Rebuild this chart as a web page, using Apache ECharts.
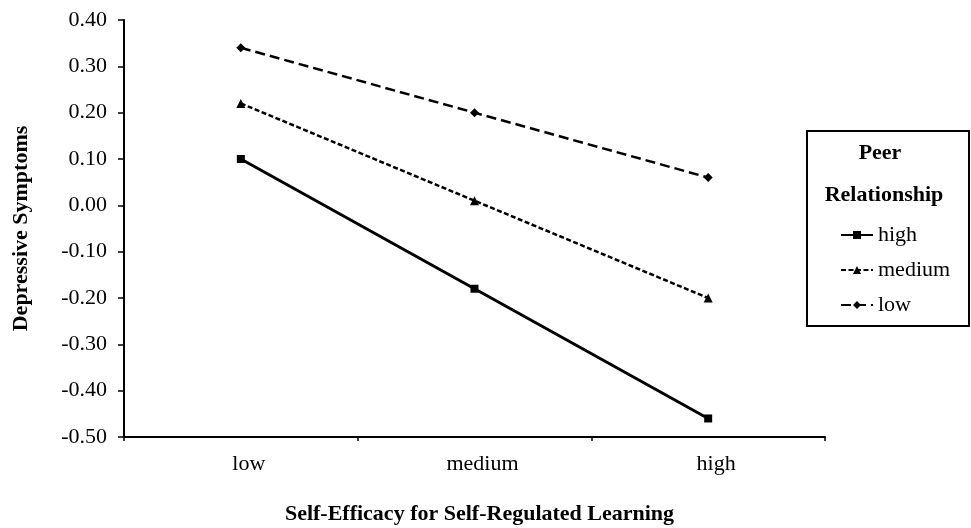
<!DOCTYPE html>
<html><head><meta charset="utf-8">
<script src="https://cdn.jsdelivr.net/npm/echarts@6/dist/echarts.min.js"></script>
<style>html,body{margin:0;padding:0;background:#fff}#c{width:971px;height:528px}</style>
</head><body><div id="c"></div>
<script>
const categories = ['low', 'medium', 'high'];
const highPeer = [0.10, -0.18, -0.46];
const mediumPeer = [0.22, 0.01, -0.20];
const lowPeer = [0.34, 0.20, 0.06];
const seriesNames = ['high', 'medium', 'low'];
const yMin = -0.5, yMax = 0.4, yStep = 0.1;

const FONT = '"Liberation Serif", "Times New Roman", serif';
const chart = echarts.init(document.getElementById('c'), null, {renderer: 'canvas'});
chart.setOption({
  backgroundColor: '#fff',
  animation: false,
  textStyle: {fontFamily: FONT, color: '#000'},
  grid: {left: 124, right: 146, top: 20, bottom: 91, containLabel: false, outerBoundsMode: 'none'},
  xAxis: {
    type: 'category', data: categories, boundaryGap: true,
    axisLine: {onZero: false, lineStyle: {color: '#000', width: 2}},
    axisTick: {show: true, length: 4, lineStyle: {color: '#000', width: 1.5}},
    axisLabel: {color: '#000', fontFamily: FONT, fontSize: 22, margin: 16, padding: [0, 0, 0, 16]},
    name: 'Self-Efficacy for Self-Regulated Learning', nameLocation: 'middle', nameGap: 66,
    nameTextStyle: {fontFamily: FONT, fontSize: 22, fontWeight: 'bold', color: '#000', padding: [0, 0, 0, 10]}
  },
  yAxis: {
    type: 'value', min: yMin, max: yMax, interval: yStep,
    axisLine: {show: true, lineStyle: {color: '#000', width: 2}},
    axisTick: {show: true, length: 6, lineStyle: {color: '#000', width: 1.5}},
    splitLine: {show: false},
    axisLabel: {color: '#000', fontFamily: FONT, fontSize: 22, margin: 17,
      formatter: v => v.toFixed(2)},
    name: 'Depressive Symptoms', nameLocation: 'middle', nameGap: 92,
    nameTextStyle: {fontFamily: FONT, fontSize: 22, fontWeight: 'bold', color: '#000'}
  },
  legend: {
    orient: 'vertical', left: 840, top: 224, itemGap: 13, padding: 0,
    itemWidth: 32, itemHeight: 10,
    textStyle: {fontFamily: FONT, fontSize: 22, lineHeight: 22, color: '#000'},
    data: seriesNames
  },
  graphic: [
    {type: 'rect', shape: {x: 807, y: 131, width: 162, height: 195},
     style: {fill: 'none', stroke: '#000', lineWidth: 2}, z: 100},
    {type: 'text', x: 880, y: 153, style: {text: 'Peer', font: 'bold 22px ' + FONT, fill: '#000', textAlign: 'center', textVerticalAlign: 'middle'}, z: 100},
    {type: 'text', x: 884, y: 195, style: {text: 'Relationship', font: 'bold 22px ' + FONT, fill: '#000', textAlign: 'center', textVerticalAlign: 'middle'}, z: 100}
  ],
  series: [
    {name: 'high', type: 'line', data: highPeer, symbol: 'rect', symbolSize: 8,
     itemStyle: {color: '#000'}, lineStyle: {color: '#000', width: 3, type: 'solid'}},
    {name: 'medium', type: 'line', data: mediumPeer, symbol: 'triangle', symbolSize: 9,
     itemStyle: {color: '#000'}, lineStyle: {color: '#000', width: 2.5, type: [5, 2.5]}},
    {name: 'low', type: 'line', data: lowPeer, symbol: 'diamond', symbolSize: 9,
     itemStyle: {color: '#000'}, lineStyle: {color: '#000', width: 2.5, type: [10, 5]}}
  ]
});
</script></body></html>
